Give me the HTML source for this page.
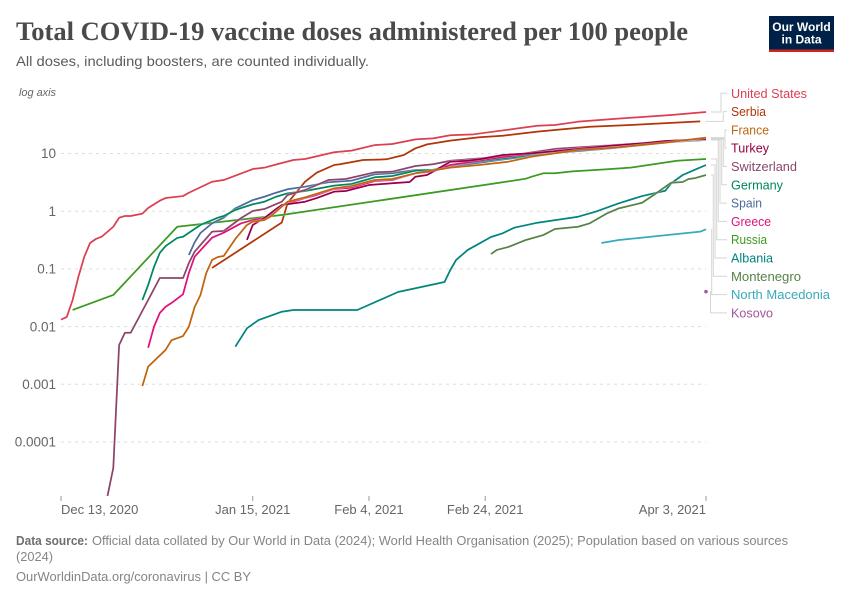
<!DOCTYPE html>
<html lang="en">
<head>
<meta charset="utf-8">
<title>Total COVID-19 vaccine doses administered per 100 people</title>
<style>
  html, body { margin: 0; padding: 0; background: #fff; }
  svg { display: block; font-family: "Liberation Sans", sans-serif; }
</style>
</head>
<body>
<svg id="chart" xmlns="http://www.w3.org/2000/svg" width="850" height="600" viewBox="0 0 850 600">
  <text x="16" y="40" font-family="'Liberation Serif', serif" font-weight="700" font-size="26" fill="#4a4a4a" textLength="672" lengthAdjust="spacingAndGlyphs">Total COVID-19 vaccine doses administered per 100 people</text>
  <text x="16" y="66" font-size="14" fill="#5b5b5b" textLength="353" lengthAdjust="spacingAndGlyphs">All doses, including boosters, are counted individually.</text>

  <g>
    <rect x="769" y="16" width="65" height="36" fill="#002147"/>
    <rect x="769" y="49.5" width="65" height="2.5" fill="#ce261e"/>
    <text x="801.5" y="31" text-anchor="middle" font-size="12" font-weight="700" fill="#fff">Our World</text>
    <text x="801.5" y="43.5" text-anchor="middle" font-size="12" font-weight="700" fill="#fff">in Data</text>
  </g>

  <text x="19" y="96" font-size="11" font-style="italic" fill="#666" textLength="37" lengthAdjust="spacingAndGlyphs">log axis</text>

  <g id="grid"></g>
  <g id="yLabels"></g>
  <g id="xAxis"></g>
  <g id="connectors"></g>
  <g id="lines"></g>
  <g id="legend"></g>

  <g>
    <text x="16" y="545" font-size="13" font-weight="700" fill="#6e6e6e" textLength="72" lengthAdjust="spacingAndGlyphs">Data source:</text>
    <text x="92" y="545" font-size="13" fill="#858585" textLength="696" lengthAdjust="spacingAndGlyphs">Official data collated by Our World in Data (2024); World Health Organisation (2025); Population based on various sources</text>
    <text x="16" y="561" font-size="13" fill="#858585" textLength="37" lengthAdjust="spacingAndGlyphs">(2024)</text>
    <text x="16" y="581" font-size="13" fill="#858585" textLength="235" lengthAdjust="spacingAndGlyphs">OurWorldinData.org/coronavirus | CC BY</text>
  </g>
</svg>

<script>
// Axis data
const yTickValues = [10, 1, 0.1, 0.01, 0.001, 0.0001];
const yTickLabels = ["10", "1", "0.1", "0.01", "0.001", "0.0001"];
const xTickDays = [0, 33, 53, 73, 111];
const xTickLabels = ["Dec 13, 2020", "Jan 15, 2021", "Feb 4, 2021", "Feb 24, 2021", "Apr 3, 2021"];

// Series data: days since Dec 13, 2020 and doses per 100 people
const usDays = [0,1,2,3,4,5,6,7,9,10,11,12,14,15,17,18,21,22,26,28,33,35,37,40,42,47,50,54,57,61,64,67,71,76,82,85,89,95,100,105,111];
const usValues = [0.0132,0.0147,0.0289,0.0733,0.161,0.281,0.33,0.361,0.538,0.771,0.826,0.826,0.906,1.135,1.52,1.69,1.83,2.09,3.24,3.47,5.38,5.68,6.44,7.71,8.03,10.5,11.2,14.0,14.6,17.6,18.3,20.7,21.5,25.1,30.3,31.2,35.6,39.6,43,46.5,52.4];

const serbiaDays = [26,38,39,42,44,47,48,52,56,59,61,63,67,72,76,82,91,98,110];
const serbiaValues = [0.104,0.637,1.39,3.24,4.65,6.32,6.5,7.71,7.93,9.42,12.3,14.4,16.7,19.1,20.3,23.9,29.1,31.2,36.1];

const franceDays = [14,15,18,19,21,22,23,24,25,26,27,28,30,32,33,35,36,38,39,42,47,50,54,57,61,67,70,72,77,81,89,95,104,111];
const franceValues = [0.00093,0.00202,0.00394,0.00578,0.00687,0.00995,0.0219,0.0353,0.0849,0.143,0.161,0.167,0.33,0.577,0.658,0.703,0.803,1.2,1.46,1.74,2.49,2.74,3.47,3.61,4.54,5.68,6.07,6.32,7.21,8.81,11.5,12.6,15.4,18.8];

const turkeyDays = [32,33,35,37,38,42,44,47,49,53,57,60,61,63,64,67,70,72,76,81,86,94,100,104,111];
const turkeyValues = [0.317,0.577,0.762,1.09,1.28,1.46,1.69,2.18,2.24,2.84,3.05,3.21,3.96,4.24,4.84,7.2,7.5,7.94,9.42,10.1,11.2,13.5,15,16.5,17.8];

const switzerlandDays = [8,9,10,11,12,15,17,21,22,23,26,28,31,33,35,38,39,42,46,49,54,57,61,64,67,76,85,95,111];
const switzerlandValues = [0.0000116,0.0000355,0.0048,0.00783,0.00783,0.0289,0.0695,0.0695,0.126,0.199,0.442,0.454,0.762,1.01,1.09,1.46,1.91,2.33,3.47,3.61,4.72,4.84,6.07,6.5,7.5,8.81,12,14,18.2];

const germanyDays = [14,15,16,17,18,20,21,24,27,28,30,33,35,37,39,42,47,50,54,57,61,64,67,76,85,95,105,111];
const germanyValues = [0.0289,0.0526,0.108,0.189,0.249,0.344,0.361,0.577,0.771,0.826,1.05,1.32,1.46,1.78,2.04,2.24,2.77,2.96,3.87,4.07,5.04,5.18,6.32,8.18,10.6,13.2,16.5,17.5];

const spainDays = [22,23,24,26,28,30,33,35,37,39,42,46,50,54,57,61,64,67,76,85,95,105,111];
const spainValues = [0.174,0.289,0.419,0.617,0.771,1.12,1.56,1.78,2.09,2.4,2.66,3.17,3.38,4.37,4.54,5.18,5.18,5.9,7.87,10.2,12.4,15.8,17.1];

const greeceDays = [15,16,17,18,19,21,22,23,26,28,31,33,35,37,38,42,44,47,50,54,57,61,64,67,76,85,95,105,111];
const greeceValues = [0.0043,0.00995,0.0172,0.0221,0.0256,0.0363,0.0849,0.163,0.348,0.424,0.617,0.703,0.762,0.968,1.28,1.69,1.91,2.43,2.55,3.34,3.47,4.54,4.84,6.32,8.69,11,13.5,16.5,17.8];

const russiaDays = [2,9,20,38,76,80,81,83,85,88,94,98,106,111];
const russiaValues = [0.0194,0.0353,0.538,0.859,3.17,3.66,3.96,4.54,4.54,4.91,5.32,5.68,7.5,8.03];

const albaniaDays = [30,32,34,38,40,51,58,66,67,68,70,74,76,78,82,89,92,96,100,104,105,107,109,111];
const albaniaValues = [0.00449,0.00933,0.013,0.0181,0.0194,0.0194,0.0398,0.0593,0.0957,0.143,0.213,0.357,0.414,0.518,0.632,0.803,0.98,1.37,1.83,2.26,3.04,4.24,5.18,6.32];

const montenegroDays = [74,75,77,80,83,85,89,91,94,96,100,102,105,107,108,109,111];
const montenegroValues = [0.181,0.213,0.24,0.317,0.386,0.491,0.538,0.617,0.92,1.12,1.4,1.91,3.12,3.21,3.61,3.72,4.24];

const northMacedoniaDays = [93,96,110,111];
const northMacedoniaValues = [0.281,0.317,0.442,0.485];

const kosovoDays = [111];
const kosovoValues = [0.0403];

// Legend order, top to bottom
const seriesNames = ["United States","Serbia","France","Turkey","Switzerland","Germany","Spain","Greece","Russia","Albania","Montenegro","North Macedonia","Kosovo"];
const seriesDays = [usDays,serbiaDays,franceDays,turkeyDays,switzerlandDays,germanyDays,spainDays,greeceDays,russiaDays,albaniaDays,montenegroDays,northMacedoniaDays,kosovoDays];
const seriesValues = [usValues,serbiaValues,franceValues,turkeyValues,switzerlandValues,germanyValues,spainValues,greeceValues,russiaValues,albaniaValues,montenegroValues,northMacedoniaValues,kosovoValues];

// Styling and layout
const NS = "http://www.w3.org/2000/svg";
const seriesColors = ["#dc3e52","#b13507","#c0640f","#970046","#8c4569","#00875e","#4c6a9c","#e0127a","#3c9a22","#00847e","#578145","#38aaba","#a2559c"];
const labelWidths = [76,35,38,38,66,52,31,40,36,42,70,99,42];
const connectorX = [721,723.3,725,725,723.3,721.7,720,718.3,716.7,715,713.3,711.7,710.5];
const drawOrder = [0,1,8,9,10,11,12,6,5,4,7,3,2];

function xScale(day) { return 61 + day * (645 / 111); }
function yScale(value) { return 153.5 - (Math.log10(value) - 1) * 57.7; }
function make(tag, attrs, parent) {
  const el = document.createElementNS(NS, tag);
  for (const key in attrs) el.setAttribute(key, attrs[key]);
  parent.appendChild(el);
  return el;
}

// Gridlines and y labels
const gridGroup = document.getElementById("grid");
const yLabelGroup = document.getElementById("yLabels");
yTickValues.forEach(function (value, i) {
  const y = yScale(value);
  const line = make("line", { x1: 61, x2: 706, y1: y, y2: y, stroke: "#dddddd", "stroke-width": 1, "stroke-dasharray": "3,4" }, gridGroup);
  
  
  const label = make("text", { x: 56, y: y + 4.7, "text-anchor": "end", "font-size": 13.5, fill: "#666" }, yLabelGroup);
  
  
  label.textContent = yTickLabels[i];
});

// X axis
const xGroup = document.getElementById("xAxis");
xTickDays.forEach(function (day, i) {
  const x = xScale(day);
  const tick = make("line", { x1: x, x2: x, y1: 496, y2: 501, stroke: "#999", "stroke-width": 1 }, xGroup);
  
  
  const anchor = i === 0 ? "start" : (i === xTickDays.length - 1 ? "end" : "middle");
  const label = make("text", { x: x, y: 514, "text-anchor": anchor, "font-size": 13, fill: "#666" }, xGroup);
  
  
  label.textContent = xTickLabels[i];
});

// Legend and connectors
const legendGroup = document.getElementById("legend");
const connectorGroup = document.getElementById("connectors");
seriesNames.forEach(function (name, i) {
  const labelY = 93.3 + i * 18.3;
  const text = make("text", { x: 731, y: labelY + 4.5, "font-size": 13, fill: seriesColors[i], textLength: labelWidths[i], lengthAdjust: "spacingAndGlyphs" }, legendGroup);
  
  
  text.textContent = name;
  const values = seriesValues[i];
  const days = seriesDays[i];
  const endY = yScale(values[values.length - 1]);
  const endX = xScale(days[days.length - 1]);
  const startX = endX + 5;
  const path = make("path", { d: "M" + startX + " " + endY + "H" + connectorX[i] + "V" + labelY + "H727", fill: "none", stroke: "#d5d5d5", "stroke-width": 1 }, connectorGroup);
  
  
});

// Series lines
const lineGroup = document.getElementById("lines");
drawOrder.forEach(function (i) {
  const days = seriesDays[i];
  const values = seriesValues[i];
  if (days.length === 1) {
    const dot = make("circle", { cx: xScale(days[0]), cy: yScale(values[0]), r: 1.8, fill: seriesColors[i] }, lineGroup);
    
    
    return;
  }
  const d = days.map(function (day, k) {
    return (k ? "L" : "M") + xScale(day).toFixed(2) + " " + yScale(values[k]).toFixed(2);
  }).join("");
  const halo = make("path", { d: d, fill: "none", stroke: "#fff", "stroke-width": 2.6, "stroke-linejoin": "round", "stroke-linecap": "butt", opacity: 0.5 }, lineGroup);
  
  
  const line = make("path", { d: d, fill: "none", stroke: seriesColors[i], "stroke-width": 1.75, "stroke-linejoin": "round", "stroke-linecap": "butt" }, lineGroup);
  
  
});
</script>
</body>
</html>
